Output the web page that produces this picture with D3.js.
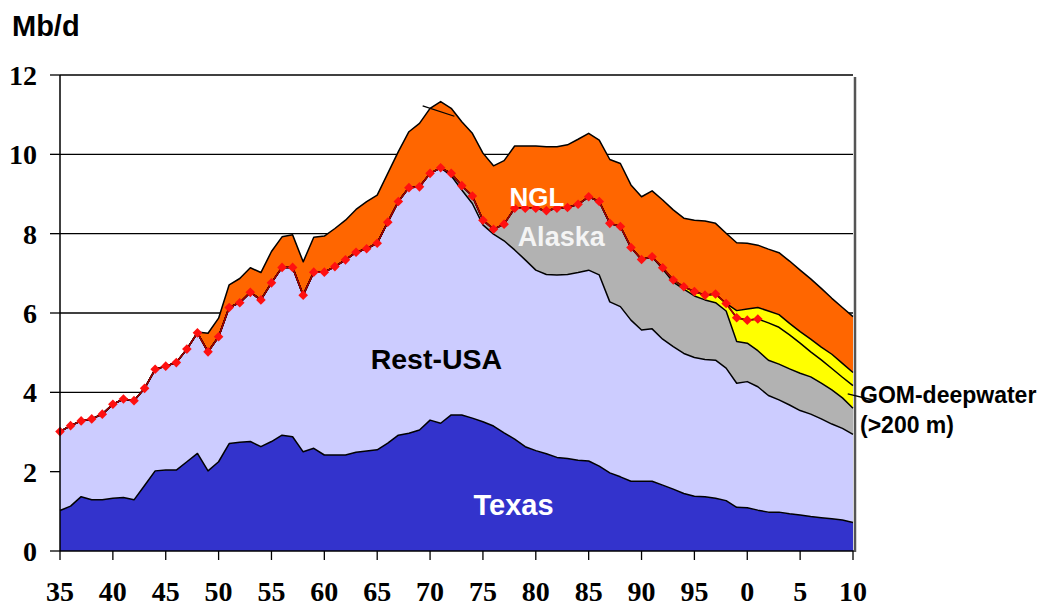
<!DOCTYPE html>
<html>
<head>
<meta charset="utf-8">
<script src="https://cdn.jsdelivr.net/npm/d3@7/dist/d3.min.js"></script>
<style>
  body { margin: 0; background: #fff; }
  svg { display: block; }
  .tick-label { font-family: 'Liberation Serif', 'Times New Roman', serif; font-weight: bold; font-size: 28px; }
  .lbl { font-family: 'Liberation Sans', Arial, sans-serif; font-weight: bold; }
</style>
</head>
<body>
<div id="chart"></div>
<script>
// US oil production, Mb/d, by year
const firstYear = 1935
const lastYear = 2010

const texas = [
  1.02, 1.13, 1.37, 1.29, 1.29, 1.33, 1.35, 1.29, 1.65, 2.02,
  2.04, 2.04, 2.25, 2.46, 2.02, 2.25, 2.71, 2.74, 2.76, 2.63,
  2.76, 2.92, 2.88, 2.50, 2.59, 2.42, 2.42, 2.42, 2.49, 2.52,
  2.55, 2.72, 2.92, 2.97, 3.05, 3.30, 3.22, 3.43, 3.43, 3.35,
  3.26, 3.15, 2.98, 2.82, 2.63, 2.53, 2.45, 2.36, 2.33, 2.29,
  2.27, 2.14, 1.97, 1.87, 1.76, 1.76, 1.76, 1.66, 1.56, 1.45,
  1.38, 1.37, 1.33, 1.27, 1.10, 1.09, 1.03, 0.98, 0.98, 0.94,
  0.91, 0.87, 0.84, 0.81, 0.78, 0.72
]
const restUSA = [
  1.99, 2.03, 1.91, 2.04, 2.16, 2.37, 2.48, 2.50, 2.45, 2.56,
  2.62, 2.71, 2.84, 3.04, 3.00, 3.15, 3.43, 3.52, 3.76, 3.70,
  4.00, 4.23, 4.27, 3.95, 4.44, 4.61, 4.75, 4.92, 5.04, 5.10,
  5.21, 5.57, 5.89, 6.19, 6.13, 6.22, 6.44, 6.03, 5.67, 5.41,
  4.96, 4.84, 4.84, 4.77, 4.71, 4.55, 4.52, 4.60, 4.64, 4.73,
  4.81, 4.82, 4.31, 4.29, 4.06, 3.81, 3.84, 3.68, 3.59, 3.53,
  3.50, 3.46, 3.48, 3.34, 3.13, 3.18, 3.11, 2.94, 2.83, 2.74,
  2.63, 2.58, 2.49, 2.39, 2.31, 2.22
]
// series below start later, earlier years are 0
const alaskaStart = 1972
const alaska = [
  0.06, 0.11, 0.19, 0.12, 0.12, 0.42, 1.05, 1.30, 1.56, 1.61,
  1.68, 1.69, 1.72, 1.85, 1.85, 1.98, 2.02, 1.83, 1.78, 1.82,
  1.77, 1.63, 1.62, 1.55, 1.50, 1.45, 1.44, 1.05, 0.97, 0.91,
  0.89, 0.90, 0.91, 0.94, 0.94, 0.90, 0.86, 0.77, 0.66
]
const gomStart = 1992
const gomDeep = [
  0.03, 0.05, 0.06, 0.11, 0.12, 0.22, 0.19, 0.60, 0.58, 0.80,
  0.94, 0.93, 0.86, 0.76, 0.63, 0.59, 0.54, 0.52, 0.57
]
const gomNewStart = 1999
const gomNew = [
  0.18, 0.28, 0.29, 0.30, 0.32, 0.29, 0.29, 0.32, 0.32, 0.36,
  0.35, 0.33
]
const nglStart = 1948
const ngl = [
  0.02, 0.47, 0.47, 0.57, 0.61, 0.62, 0.69,
  0.79, 0.77, 0.82, 0.84, 0.88, 0.91, 0.96, 1.00, 1.08, 1.19,
  1.21, 1.23, 1.26, 1.41, 1.60, 1.64, 1.67, 1.64, 1.61, 1.58,
  1.69, 1.60, 1.60, 1.57, 1.57, 1.57, 1.61, 1.55, 1.58, 1.64,
  1.60, 1.55, 1.61, 1.59, 1.58, 1.58, 1.66, 1.71, 1.77, 1.73,
  1.80, 1.87, 1.78, 1.77, 1.71, 1.66, 1.57, 1.56, 1.56, 1.57,
  1.55, 1.52, 1.48, 1.41, 1.41, 1.41
]
const markerLastYear = 2001   // red diamonds = crude total, history only

// odd short stroke on the 1971 peak
const strayYears = [1969.3, 1972.3]
const strayValues = [11.22, 10.96]

const xTickYears = [1935, 1940, 1945, 1950, 1955, 1960, 1965, 1970, 1975, 1980, 1985, 1990, 1995, 2000, 2005, 2010]
const xTickLabels = ['35', '40', '45', '50', '55', '60', '65', '70', '75', '80', '85', '90', '95', '0', '5', '10']
const yTicks = [0, 2, 4, 6, 8, 10, 12]

const keys = ['texas', 'restUSA', 'alaska', 'gomDeep', 'gomNew', 'ngl']
const colors = {
  texas: '#3333cc',
  restUSA: '#ccccff',
  alaska: '#b2b2b2',
  gomDeep: '#ffff00',
  gomNew: '#ffff00',
  ngl: '#ff6600'
}

const width = 1050
const height = 608
const plot = { left: 60, right: 853, top: 75, bottom: 551 }

const years = d3.range(firstYear, lastYear + 1)
const pick = (arr, start, yr) => (yr >= start && yr - start < arr.length) ? arr[yr - start] : 0
const table = years.map((yr, i) => ({
  year: yr,
  texas: texas[i],
  restUSA: restUSA[i],
  alaska: pick(alaska, alaskaStart, yr),
  gomDeep: pick(gomDeep, gomStart, yr),
  gomNew: pick(gomNew, gomNewStart, yr),
  ngl: pick(ngl, nglStart, yr)
}))

const stacked = d3.stack().keys(keys)(table)

const x = d3.scaleLinear().domain([firstYear, lastYear]).range([plot.left, plot.right])
const y = d3.scaleLinear().domain([0, 12]).range([plot.bottom, plot.top])

const svg = d3.select('#chart')
  .append('svg')
  .attr('width', width)
  .attr('height', height)

// grid
svg.append('g')
  .selectAll('line')
  .data(yTicks.filter(v => v > 0))
  .enter()
  .append('line')
  .attr('x1', plot.left)
  .attr('x2', plot.right)
  .attr('y1', d => y(d))
  .attr('y2', d => y(d))
  .style('stroke', '#000')
  .style('stroke-width', 1.3)

const area = d3.area()
  .x(d => x(d.data.year))
  .y0(d => y(d[0]))
  .y1(d => y(d[1]))
const topLine = d3.line()
  .x(d => x(d.data.year))
  .y(d => y(d[1]))

svg.append('g')
  .selectAll('path')
  .data(stacked)
  .enter()
  .append('path')
  .attr('d', area)
  .style('fill', d => colors[d.key])

svg.append('g')
  .selectAll('path')
  .data(stacked)
  .enter()
  .append('path')
  .attr('d', topLine)
  .style('fill', 'none')
  .style('stroke', '#000')
  .style('stroke-width', 1.5)
  .style('stroke-linejoin', 'round')

// crude total with diamonds
const crude = stacked[3].filter(d => d.data.year <= markerLastYear)
svg.append('path')
  .attr('d', topLine(crude))
  .style('fill', 'none')
  .style('stroke', '#a00000')
  .style('stroke-width', 1.6)

svg.append('g')
  .selectAll('path')
  .data(crude)
  .enter()
  .append('path')
  .attr('d', d3.symbol().type(d3.symbolSquare).size(46))
  .attr('transform', d => `translate(${x(d.data.year)},${y(d[1])}) rotate(45)`)
  .style('fill', '#ff1010')

svg.append('path')
  .attr('d', d3.line().x(d => x(d[0])).y(d => y(d[1]))(d3.zip(strayYears, strayValues)))
  .style('stroke', '#000')
  .style('stroke-width', 1.3)

// axes
const yAxis = svg.append('g')
yAxis.append('line')
  .attr('x1', plot.left).attr('x2', plot.left)
  .attr('y1', plot.top).attr('y2', plot.bottom)
  .style('stroke', '#000').style('stroke-width', 1.5)
yAxis.selectAll('.tk')
  .data(yTicks)
  .enter()
  .append('line')
  .attr('x1', plot.left - 10).attr('x2', plot.left)
  .attr('y1', d => y(d)).attr('y2', d => y(d))
  .style('stroke', '#000').style('stroke-width', 1.3)
yAxis.selectAll('text')
  .data(yTicks)
  .enter()
  .append('text')
  .attr('class', 'tick-label')
  .attr('x', 37)
  .attr('y', d => y(d) + 10)
  .attr('text-anchor', 'end')
  .text(d => d)

const xAxis = svg.append('g')
xAxis.append('line')
  .attr('x1', plot.left).attr('x2', plot.right + 2)
  .attr('y1', plot.bottom).attr('y2', plot.bottom)
  .style('stroke', '#000').style('stroke-width', 1.5)
xAxis.selectAll('.tk')
  .data(xTickYears)
  .enter()
  .append('line')
  .attr('x1', d => x(d)).attr('x2', d => x(d))
  .attr('y1', plot.bottom).attr('y2', plot.bottom + 9)
  .style('stroke', '#000').style('stroke-width', 1.3)
xAxis.selectAll('text')
  .data(xTickYears)
  .enter()
  .append('text')
  .attr('class', 'tick-label')
  .attr('x', d => x(d))
  .attr('y', 601)
  .attr('text-anchor', 'middle')
  .text((d, i) => xTickLabels[i])

// right border
svg.append('line')
  .attr('x1', plot.right + 2).attr('x2', plot.right + 2)
  .attr('y1', plot.top + 2).attr('y2', plot.bottom + 1)
  .style('stroke', '#555').style('stroke-width', 2.5)

// labels
svg.append('text').attr('class', 'lbl')
  .attr('x', 12).attr('y', 36)
  .style('font-size', '29px')
  .text('Mb/d')

const labels = [
  { text: 'NGL', yr: 1980.1, v: 8.7, size: 26, color: '#fff' },
  { text: 'Alaska', yr: 1982.4, v: 7.7, size: 27, color: '#f4f4f4' },
  { text: 'Rest-USA', yr: 1970.6, v: 4.6, size: 28.5, color: '#000' },
  { text: 'Texas', yr: 1977.9, v: 0.92, size: 29, color: '#fff' }
]
svg.append('g')
  .selectAll('text')
  .data(labels)
  .enter()
  .append('text')
  .attr('class', 'lbl')
  .attr('x', d => x(d.yr))
  .attr('y', d => y(d.v))
  .attr('text-anchor', 'middle')
  .style('font-size', d => `${d.size}px`)
  .style('fill', d => d.color)
  .text(d => d.text)

svg.append('line')
  .attr('x1', x(2009.5)).attr('y1', y(3.96))
  .attr('x2', 873).attr('y2', 400)
  .style('stroke', '#000').style('stroke-width', 1.3)
svg.append('text').attr('class', 'lbl')
  .attr('x', 860).attr('y', 403)
  .style('font-size', '23px')
  .text('GOM-deepwater')
svg.append('text').attr('class', 'lbl')
  .attr('x', 860).attr('y', 433)
  .style('font-size', '23px')
  .text('(>200 m)')
</script>
</body>
</html>
